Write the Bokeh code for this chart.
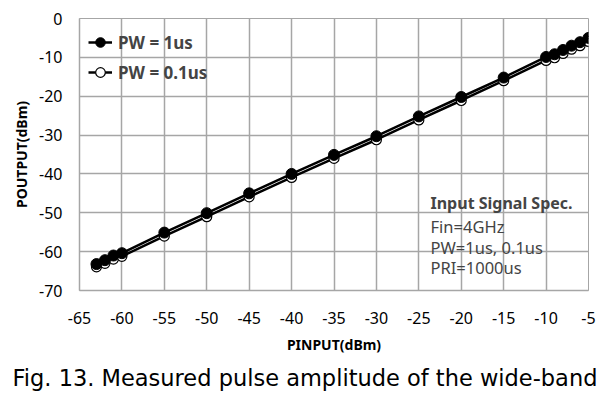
from bokeh.plotting import figure
from bokeh.models import Label, Legend, LegendItem, FixedTicker, Range1d, CustomJSTickFormatter, Title
from bokeh.embed import file_html
from bokeh.resources import INLINE

# ---- data ----
p_input = [-63, -62, -61, -60, -55, -50, -45, -40, -35, -30, -25, -20, -15, -10, -9, -8, -7, -6, -5]
p_out_1us = [-63.2, -62.2, -61.0, -60.4, -55.1, -50.1, -45.0, -40.0, -35.1, -30.3, -25.2, -20.2,
             -15.2, -9.9, -9.2, -8.1, -7.0, -6.1, -5.0]
p_out_01us = [-63.9, -63.0, -61.9, -61.2, -56.0, -51.0, -45.9, -40.9, -36.0, -31.2, -26.1, -21.1,
              -16.0, -10.8, -10.1, -9.0, -7.9, -7.0, -5.9]
x_ticks = [-65, -60, -55, -50, -45, -40, -35, -30, -25, -20, -15, -10, -5]
y_ticks = [0, -10, -20, -30, -40, -50, -60, -70]
legend_labels = ["PW = 1us", "PW = 0.1us"]
x_label = "PINPUT(dBm)"
y_label = "POUTPUT(dBm)"
spec_title = "Input Signal Spec."
spec_lines = ["Fin=4GHz", "PW=1us, 0.1us", "PRI=1000us"]
caption = "Fig. 13. Measured pulse amplitude of the wide-band"

# ---- layout (pixels) ----
W, H = 600, 397
FL, FR, FT, FB = 79, 588, 18, 290   # frame edges in page px
GRID = "#a6a6a6"
FONT = "Noto Sans"

p = figure(width=W, height=H, output_backend="svg", toolbar_location=None, title=None,
           x_range=Range1d(-65, -5), y_range=Range1d(-70, 0),
           min_border_left=FL, min_border_right=W - FR, min_border_top=FT,
           min_border_bottom=H - FB)
p.outline_line_color = GRID
p.outline_line_width = 1
p.background_fill_color = "white"
p.border_fill_color = "white"

fmt = CustomJSTickFormatter(code="return String(tick);")
for ax in (p.xaxis[0], p.yaxis[0]):
    ax.axis_line_color = GRID
    ax.axis_line_width = 1.5
    ax.major_tick_line_color = None
    ax.minor_tick_line_color = None
    ax.major_tick_in = 0
    ax.major_tick_out = 0
    ax.formatter = fmt
    ax.major_label_text_font = FONT
    ax.major_label_text_font_size = "16px"
    ax.major_label_text_color = "black"
    ax.axis_label_text_font = FONT
    ax.axis_label_text_font_size = "14px"
    ax.axis_label_text_font_style = "bold"
    ax.axis_label_text_color = "black"
p.xaxis[0].ticker = FixedTicker(ticks=x_ticks)
p.yaxis[0].ticker = FixedTicker(ticks=y_ticks)
p.xaxis[0].major_label_standoff = 21
p.yaxis[0].major_label_standoff = 17
p.xaxis[0].axis_label = x_label
p.xaxis[0].axis_label_standoff = 8
p.yaxis[0].axis_label = y_label
p.yaxis[0].axis_label_standoff = 5

for g in (p.xgrid[0], p.ygrid[0]):
    g.grid_line_color = GRID
    g.grid_line_width = 1.5
p.xgrid[0].ticker = FixedTicker(ticks=x_ticks)
p.ygrid[0].ticker = FixedTicker(ticks=y_ticks)

l2 = p.line(p_input, p_out_01us, line_color="black", line_width=2.5)
s2 = p.scatter(p_input, p_out_01us, marker="circle", size=10, fill_color="white",
               line_color="black", line_width=1.2)
l1 = p.line(p_input, p_out_1us, line_color="black", line_width=2.5)
s1 = p.scatter(p_input, p_out_1us, marker="circle", size=11, fill_color="black",
               line_color="black")

legend = Legend(items=[LegendItem(label=legend_labels[0], renderers=[l1, s1]),
                       LegendItem(label=legend_labels[1], renderers=[l2, s2])],
                location="top_left", margin=0, padding=9, spacing=0,
                glyph_width=24, glyph_height=30, label_height=30, label_standoff=6,
                label_text_font=FONT, label_text_font_size="17px",
                label_text_font_style="bold", background_fill_alpha=0,
                border_line_alpha=0)
p.add_layout(legend, "center")

# annotation block (screen units: from frame bottom-left, y up)
def sx(px):
    return px - FL

def sy(py):
    return FB - py

p.add_layout(Label(x=sx(430), y=sy(202), x_units="screen", y_units="screen",
                   text=spec_title, text_font=FONT, text_font_size="16px",
                   text_font_style="bold", text_baseline="middle", text_align="left"))
for t, yy in zip(spec_lines, [226, 246.5, 267]):
    p.add_layout(Label(x=sx(430), y=sy(yy), x_units="screen", y_units="screen",
                       text=t, text_font=FONT, text_font_size="16.5px",
                       text_baseline="middle", text_align="left"))

# caption below the x axis
p.add_layout(Title(text=caption, align="left", offset=12 - FL, standoff=12,
                   text_font="DejaVu Sans", text_font_size="22.5px",
                   text_font_style="normal", text_color="black"), "below")

open("out.html", "w").write(file_html(p, INLINE))
